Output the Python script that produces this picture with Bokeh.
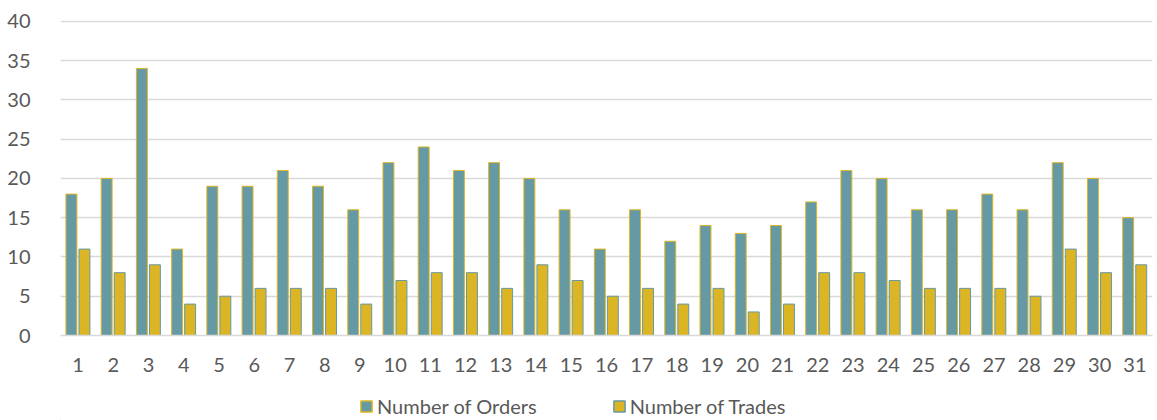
from bokeh.plotting import figure
from bokeh.layouts import column
from bokeh.models import FactorRange, ColumnDataSource, Legend, LegendItem, SingleIntervalTicker, Range1d
from bokeh.transform import dodge
from bokeh.embed import file_html
from bokeh.resources import INLINE

days = [str(i) for i in range(1, 32)]
orders = [18, 20, 34, 11, 19, 19, 21, 19, 16, 22, 24, 21, 22, 20, 16, 11, 16, 12, 14, 13, 14, 17, 21, 20, 16, 16, 18, 16, 22, 20, 15]
trades = [11, 8, 9, 4, 5, 6, 6, 6, 4, 7, 8, 8, 6, 9, 7, 5, 6, 4, 6, 3, 4, 8, 8, 7, 6, 6, 6, 5, 11, 8, 9]
series_names = ["Number of Orders", "Number of Trades"]

TEAL = "#6599a3"
GOLD = "#dcb524"
FONT = "Lato"
TXT = "#595959"

src = ColumnDataSource(dict(day=days, orders=orders, trades=trades))

p = figure(x_range=FactorRange(factors=days), y_range=Range1d(0, 40.1),
           width=1157, height=393, output_backend="svg", toolbar_location=None,
           min_border_left=60, min_border_right=5, min_border_top=20, min_border_bottom=58)

r1 = p.vbar(x=dodge("day", -0.19, range=p.x_range), top="orders", width=0.31, source=src,
            fill_color=TEAL, line_color=GOLD, line_width=1)
r2 = p.vbar(x=dodge("day", 0.18, range=p.x_range), top="trades", width=0.31, source=src,
            fill_color=GOLD, line_color=TEAL, line_width=1)

p.outline_line_color = None
p.xgrid.grid_line_color = None
p.ygrid.grid_line_color = "#d9d9d9"
p.ygrid.grid_line_width = 1.5
p.yaxis.ticker = SingleIntervalTicker(interval=5)

for ax in (p.xaxis[0], p.yaxis[0]):
    ax.major_tick_line_color = None
    ax.minor_tick_line_color = None
    ax.major_label_text_font = FONT
    ax.major_label_text_font_size = "20px"
    ax.major_label_text_color = TXT
p.yaxis.axis_line_color = None
p.yaxis.major_label_standoff = 24
p.xaxis.axis_line_color = "#d9d9d9"
p.xaxis.axis_line_width = 1.5
p.xaxis.major_label_standoff = 16

# legend strip below the chart (helper renderers lie outside the visible range)
lf = figure(width=1157, height=27, x_range=Range1d(0, 1), y_range=Range1d(0, 1),
            x_axis_type=None, y_axis_type=None, output_backend="svg", toolbar_location=None,
            min_border_left=0, min_border_right=0, min_border_top=0, min_border_bottom=0)
lf.outline_line_color = None
lf.grid.grid_line_color = None
helper = ColumnDataSource(dict(x=[-5.0], top=[-5.0]))
l1 = lf.vbar(x="x", top="top", width=0.1, source=helper, fill_color=TEAL, line_color=GOLD, line_width=1.5)
l2 = lf.vbar(x="x", top="top", width=0.1, source=helper, fill_color=GOLD, line_color=TEAL, line_width=1.5)
legend = Legend(items=[LegendItem(label=series_names[0], renderers=[l1]),
                       LegendItem(label=series_names[1], renderers=[l2])],
                orientation="horizontal", location=(299, 2),
                label_text_font=FONT, label_text_font_size="20px", label_text_color=TXT,
                glyph_width=14, glyph_height=14, spacing=75, label_standoff=4,
                border_line_color=None, background_fill_alpha=0, padding=0, margin=0)
lf.add_layout(legend, "center")

layout = column(p, lf, spacing=0)
open("out.html", "w").write(file_html(layout, INLINE))
